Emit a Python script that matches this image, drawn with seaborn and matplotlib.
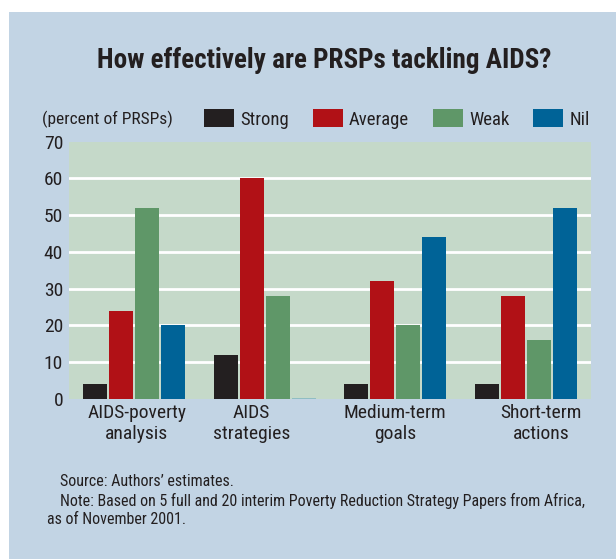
import matplotlib
matplotlib.use("Agg")
import matplotlib.pyplot as plt
from matplotlib import font_manager
from matplotlib.patches import Rectangle, Patch
import seaborn as sns
import pandas as pd

# Data
categories = ["AIDS-poverty\nanalysis", "AIDS\nstrategies", "Medium-term\ngoals", "Short-term\nactions"]
ratings = ["Strong", "Average", "Weak", "Nil"]
strong = [4, 12, 4, 4]
average = [24, 60, 32, 28]
weak = [52, 28, 20, 16]
nil = [20, 0, 44, 52]
y_ticks = [0, 10, 20, 30, 40, 50, 60, 70]

colors = ["#231f20", "#b11116", "#5f9768", "#006397"]
plot_bg = "#c5d9c9"
panel_bg = "#c2d4e4"
text_c = "#231f20"

rows = []
for r, vals in zip(ratings, [strong, average, weak, nil]):
    for c, v in zip(categories, vals):
        rows.append({"category": c, "rating": r, "value": v})
df = pd.DataFrame(rows)

sns.set_theme(style="white")

# Prefer a narrow sans face
names = {f.name for f in font_manager.fontManager.ttflist}
chosen = None
for cand in ["Roboto Condensed", "Liberation Sans Narrow", "Open Sans Condensed"]:
    if cand in names:
        chosen = cand
        break
if chosen:
    plt.rcParams["font.family"] = [chosen, "DejaVu Sans"]
else:
    plt.rcParams["font.family"] = ["DejaVu Sans"]
    plt.rcParams["font.stretch"] = "condensed"
SCALE = 1.0 if chosen else 0.88

fig = plt.figure(figsize=(6.16, 5.59), dpi=100, facecolor="white")
W, H = 616, 559
fig.patches.append(Rectangle((9 / W, 0), 1 - 9 / W, (H - 12) / H,
                             transform=fig.transFigure, facecolor=panel_bg,
                             edgecolor="none", zorder=-5))

ax = fig.add_axes([69 / W, 1 - 398.7 / H, (591 - 69) / W, (398.7 - 141.7) / H])
ax.set_zorder(2)
ax.set_facecolor(plot_bg)

sns.barplot(data=df, x="category", y="value", hue="rating", order=categories,
            hue_order=ratings, palette=colors, width=0.8, gap=0.08,
            saturation=1, legend=False, ax=ax, zorder=3)

for p in ax.patches:
    p.set_linewidth(0)
    if p.get_height() == 0:
        p.set_edgecolor("#86b8c2")
        p.set_linewidth(1.2)

ax.set_xlim(-0.5, 3.5)
ax.set_ylim(0, 70)
ax.set_yticks(y_ticks)
ax.set_yticklabels([str(t) for t in y_ticks], fontsize=14 * SCALE, color=text_c)
for t in y_ticks[1:-1]:
    ax.axhline(t, color="white", lw=2, zorder=1)
ax.tick_params(axis="y", length=0, pad=4.3)

# category labels sit slightly off the group centres
label_pos = [0.02, 0.9, 2.0, 3.12]
ax.set_xticks(label_pos)
ax.set_xticklabels(categories, fontsize=14 * SCALE, color=text_c, linespacing=1.22)
ax.set_xticks([-0.5, 0.5, 1.5, 2.5, 3.5], minor=True)
ax.tick_params(axis="x", which="major", length=0, pad=4)
ax.tick_params(axis="x", which="minor", direction="in", length=4, width=1, color="#555555")
for s in ax.spines.values():
    s.set_visible(False)
ax.set_xlabel("")
ax.set_ylabel("")

fig.text(324 / W, 1 - 60 / H, "How effectively are PRSPs tackling AIDS?",
         ha="center", va="center", fontsize=19.5 * SCALE, fontweight="bold", color=text_c)

fig.text(42 / W, 1 - 119 / H, "(percent of PRSPs)", ha="left", va="center",
         fontsize=12.5 * SCALE, color=text_c)
leg_fs = 13.5 * SCALE
handles = [Patch(facecolor=c, edgecolor="none", label=r) for c, r in zip(colors, ratings)]
fs_px = leg_fs * 100 / 72
fig.legend(handles=handles, loc="center left", bbox_to_anchor=(204 / W, 1 - 119 / H),
           ncol=4, frameon=False, fontsize=leg_fs, handlelength=30 / fs_px,
           handleheight=20 / fs_px, handletextpad=6 / fs_px, columnspacing=24 / fs_px,
           borderpad=0, borderaxespad=0, labelcolor=text_c)

note_fs = 11.5 * SCALE
fig.text(60 / W, 1 - 482 / H, "Source: Authors\u2019 estimates.", ha="left", va="center",
         fontsize=note_fs, color=text_c)
fig.text(60 / W, 1 - 501 / H,
         "Note: Based on 5 full and 20 interim Poverty Reduction Strategy Papers from Africa,",
         ha="left", va="center", fontsize=note_fs, color=text_c)
fig.text(47 / W, 1 - 519 / H, "as of November 2001.", ha="left", va="center",
         fontsize=note_fs, color=text_c)

fig.savefig("out.png", dpi=100, facecolor="white")
